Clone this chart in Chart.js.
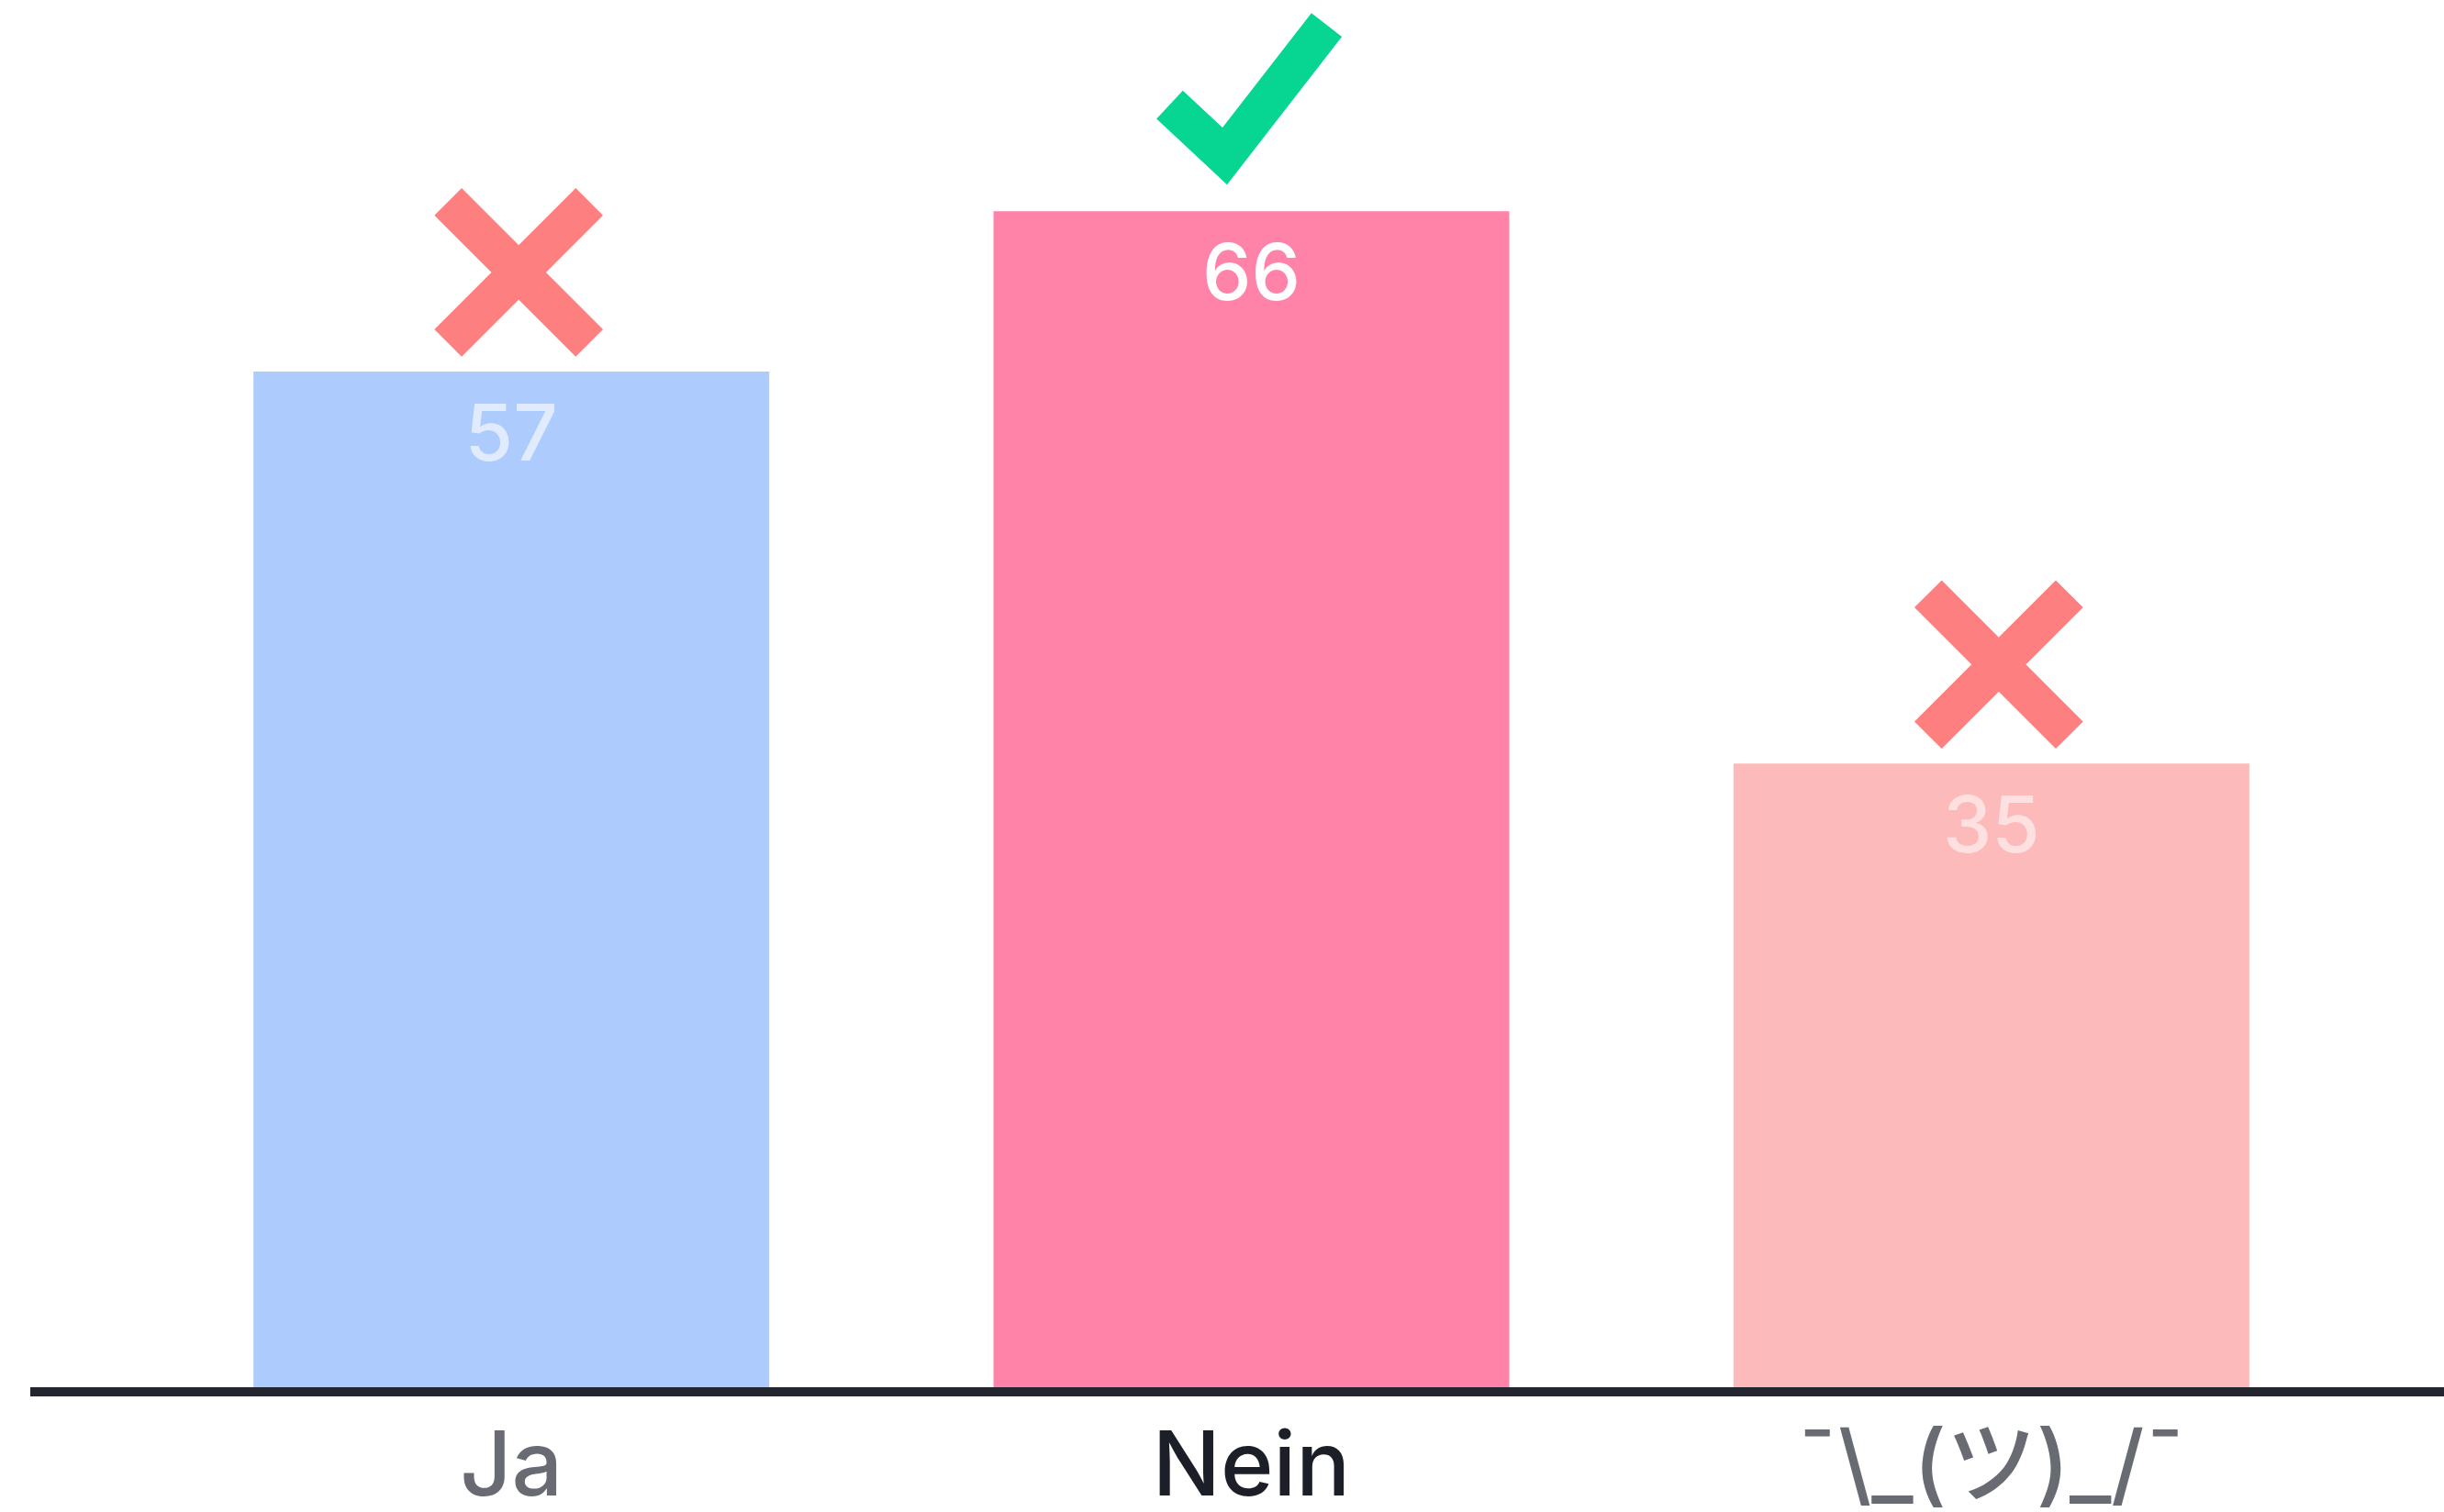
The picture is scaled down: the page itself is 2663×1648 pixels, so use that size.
<!DOCTYPE html>
<html>
<head>
<meta charset="utf-8">
<script src="https://cdn.jsdelivr.net/npm/chart.js@4/dist/chart.umd.min.js"></script>
<style>
  html, body { margin: 0; padding: 0; background: #ffffff; }
  #wrap { width: 2663px; height: 1648px; }
</style>
</head>
<body>
<div id="wrap"><canvas id="c" width="2663" height="1648"></canvas></div>
<script>
const categories = ['Ja', 'Nein', '¯\\_(ツ)_/¯'];
const values = [57, 66, 35];
const barColors = ['#aecbfd', '#ff82a9', '#fdbaba'];
const valueLabelColors = ['rgba(255,255,255,0.62)', '#ffffff', 'rgba(255,255,255,0.55)'];
const tickColors = ['#686b72', '#1c1f28', '#686b72'];
const answerMarks = ['cross', 'check', 'cross'];

const FONT = "Inter, 'Noto Sans CJK JP', sans-serif";

const marksPlugin = {
  id: 'marks',
  afterDatasetsDraw(chart) {
    const ctx = chart.ctx;
    const meta = chart.getDatasetMeta(0);
    meta.data.forEach((bar, i) => {
      const x = bar.x, top = bar.y;
      // value label inside bar
      ctx.save();
      ctx.font = "500 85px " + FONT;
      ctx.fillStyle = valueLabelColors[i];
      ctx.textAlign = 'center';
      ctx.textBaseline = 'alphabetic';
      ctx.fillText(String(values[i]), x, top + 97);
      ctx.restore();
      // answer mark above bar
      ctx.save();
      ctx.lineCap = 'butt';
      ctx.lineJoin = 'miter';
      if (answerMarks[i] === 'cross') {
        const cx = x + 8, cy = top - 108, h = 77;
        ctx.strokeStyle = '#fe7f7f';
        ctx.lineWidth = 42;
        ctx.beginPath();
        ctx.moveTo(cx - h, cy - h); ctx.lineTo(cx + h, cy + h);
        ctx.moveTo(cx + h, cy - h); ctx.lineTo(cx - h, cy + h);
        ctx.stroke();
      } else {
        ctx.strokeStyle = '#06d692';
        ctx.lineWidth = 42;
        ctx.beginPath();
        ctx.moveTo(x - 89, top - 116);
        ctx.lineTo(x - 29, top - 60);
        ctx.lineTo(x + 82, top - 203);
        ctx.stroke();
      }
      ctx.restore();
    });
    // baseline
    const y0 = chart.scales.y.getPixelForValue(0);
    ctx.save();
    ctx.fillStyle = '#23262e';
    ctx.fillRect(33, y0, chart.width - 33, 10);
    ctx.restore();
  }
};

new Chart(document.getElementById('c'), {
  type: 'bar',
  data: {
    labels: categories,
    datasets: [{
      data: values,
      backgroundColor: barColors,
      borderWidth: 0,
      barPercentage: 0.697,
      categoryPercentage: 1.0
    }]
  },
  options: {
    responsive: false,
    devicePixelRatio: 1,
    animation: false,
    layout: { padding: { left: 154, right: 90, top: 0, bottom: 0 } },
    plugins: { legend: { display: false }, tooltip: { enabled: false } },
    scales: {
      x: {
        grid: { display: false, drawTicks: false },
        border: { display: false },
        ticks: {
          padding: 30,
          font: { family: FONT, size: 98, weight: '500' },
          color: (c) => tickColors[c.index]
        },
        afterFit: (s) => { s.height = 136; }
      },
      y: {
        display: false,
        min: 0,
        max: 77.85
      }
    }
  },
  plugins: [marksPlugin]
});
</script>
</body>
</html>
